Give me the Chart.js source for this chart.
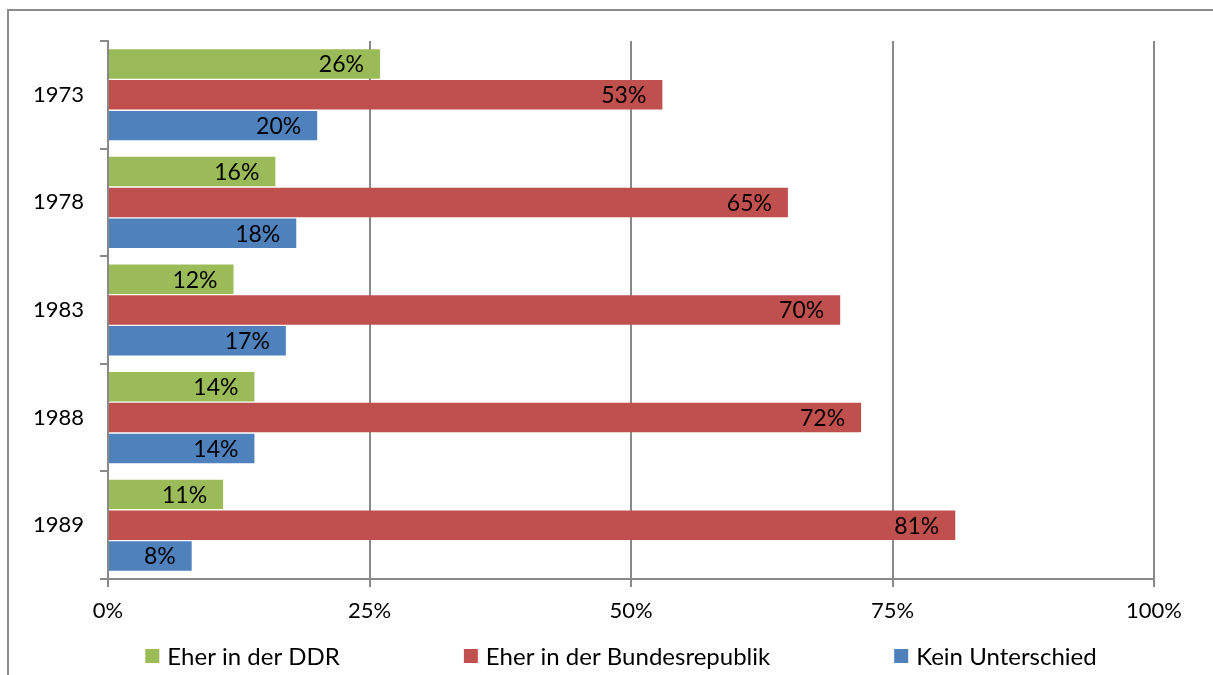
<!DOCTYPE html>
<html>
<head>
<meta charset="utf-8">
<script src="https://cdn.jsdelivr.net/npm/chart.js@4/dist/chart.umd.min.js"></script>
<style>
html,body{margin:0;padding:0;background:#fff;}
#wrap{position:relative;width:1213px;height:675px;}
</style>
</head>
<body>
<div id="wrap"><canvas id="c" width="1213" height="675"></canvas></div>
<script>
const categories = ['1973', '1978', '1983', '1988', '1989'];
const eherDDR = [26, 16, 12, 14, 11];
const eherBRD = [53, 65, 70, 72, 81];
const keinUnterschied = [20, 18, 17, 14, 8];
const seriesNames = ['Eher in der DDR', 'Eher in der Bundesrepublik', 'Kein Unterschied'];
const xTicks = [0, 25, 50, 75, 100];

const FONT = 'Lato, "Open Sans", sans-serif';
const GRID = '#898989';
const FSIZE = 22;

const framePlugin = {
  id: 'frame',
  beforeDraw(chart) {
    const ctx = chart.ctx;
    ctx.save();
    ctx.fillStyle = '#fff';
    ctx.fillRect(0, 0, chart.width, chart.height);
    ctx.strokeStyle = '#8c8c8c';
    ctx.lineWidth = 2;
    ctx.beginPath();
    ctx.moveTo(8, 675);
    ctx.lineTo(8, 10);
    ctx.lineTo(1213, 10);
    ctx.stroke();
    ctx.restore();
  }
};

const labelPlugin = {
  id: 'insideEndLabels',
  afterDatasetsDraw(chart) {
    const ctx = chart.ctx;
    ctx.save();
    ctx.font = '23px ' + FONT;
    ctx.fillStyle = '#000';
    ctx.textAlign = 'right';
    ctx.textBaseline = 'middle';
    chart.data.datasets.forEach((ds, di) => {
      const meta = chart.getDatasetMeta(di);
      meta.data.forEach((el, i) => {
        ctx.fillText(ds.data[i] + '%', el.x - 16, el.y + 1);
      });
    });
    ctx.restore();
  }
};

const legendPlugin = {
  id: 'excelLegend',
  afterDraw(chart) {
    const ctx = chart.ctx;
    const box = 14, gapText = 8, gapItem = 124;
    ctx.save();
    ctx.font = '24px ' + FONT;
    ctx.textBaseline = 'middle';
    ctx.textAlign = 'left';
    const items = chart.data.datasets.map(ds => ({
      label: ds.label, color: ds.backgroundColor,
      w: box + gapText + ctx.measureText(ds.label).width
    }));
    const total = items.reduce((s, it) => s + it.w, 0) + gapItem * (items.length - 1);
    const cx = (chart.chartArea.left + chart.chartArea.right) / 2 - 10;
    const cy = chart.height - 19;
    let x = cx - total / 2;
    items.forEach(it => {
      ctx.fillStyle = it.color;
      ctx.fillRect(x, cy - box / 2, box, box);
      ctx.fillStyle = '#000';
      ctx.fillText(it.label, x + box + gapText, cy + 1);
      x += it.w + gapItem;
    });
    ctx.restore();
  }
};

new Chart(document.getElementById('c'), {
  type: 'bar',
  data: {
    labels: categories,
    datasets: [
      { label: seriesNames[0], data: eherDDR, backgroundColor: '#9BBB59' },
      { label: seriesNames[1], data: eherBRD, backgroundColor: '#C0504D' },
      { label: seriesNames[2], data: keinUnterschied, backgroundColor: '#4F81BD' }
    ]
  },
  options: {
    indexAxis: 'y',
    responsive: false,
    animation: false,
    devicePixelRatio: 1,
    layout: { padding: { left: 0, top: 41, right: 59, bottom: 46 } },
    datasets: { bar: { categoryPercentage: 0.86, barPercentage: 0.955 } },
    scales: {
      x: {
        min: 0, max: 100,
        afterBuildTicks(scale) { scale.ticks = xTicks.map(v => ({ value: v })); },
        ticks: {
          callback: v => v + '%',
          color: '#000',
          font: { family: FONT, size: FSIZE },
          padding: 11,
          maxRotation: 0
        },
        grid: { color: GRID, lineWidth: 2, tickLength: 8, drawTicks: true },
        border: { color: GRID, width: 2 },
        afterFit(scale) { scale.height = 50; }
      },
      y: {
        ticks: {
          color: '#000',
          font: { family: FONT, size: FSIZE },
          padding: 16
        },
        grid: { drawOnChartArea: false, drawTicks: true, tickLength: 8, color: GRID, lineWidth: 2, offset: true },
        border: { color: GRID, width: 2 },
        afterFit(scale) { scale.width = 108; }
      }
    },
    plugins: {
      legend: { display: false },
      tooltip: { enabled: false }
    }
  },
  plugins: [framePlugin, labelPlugin, legendPlugin]
});
</script>
</body>
</html>
